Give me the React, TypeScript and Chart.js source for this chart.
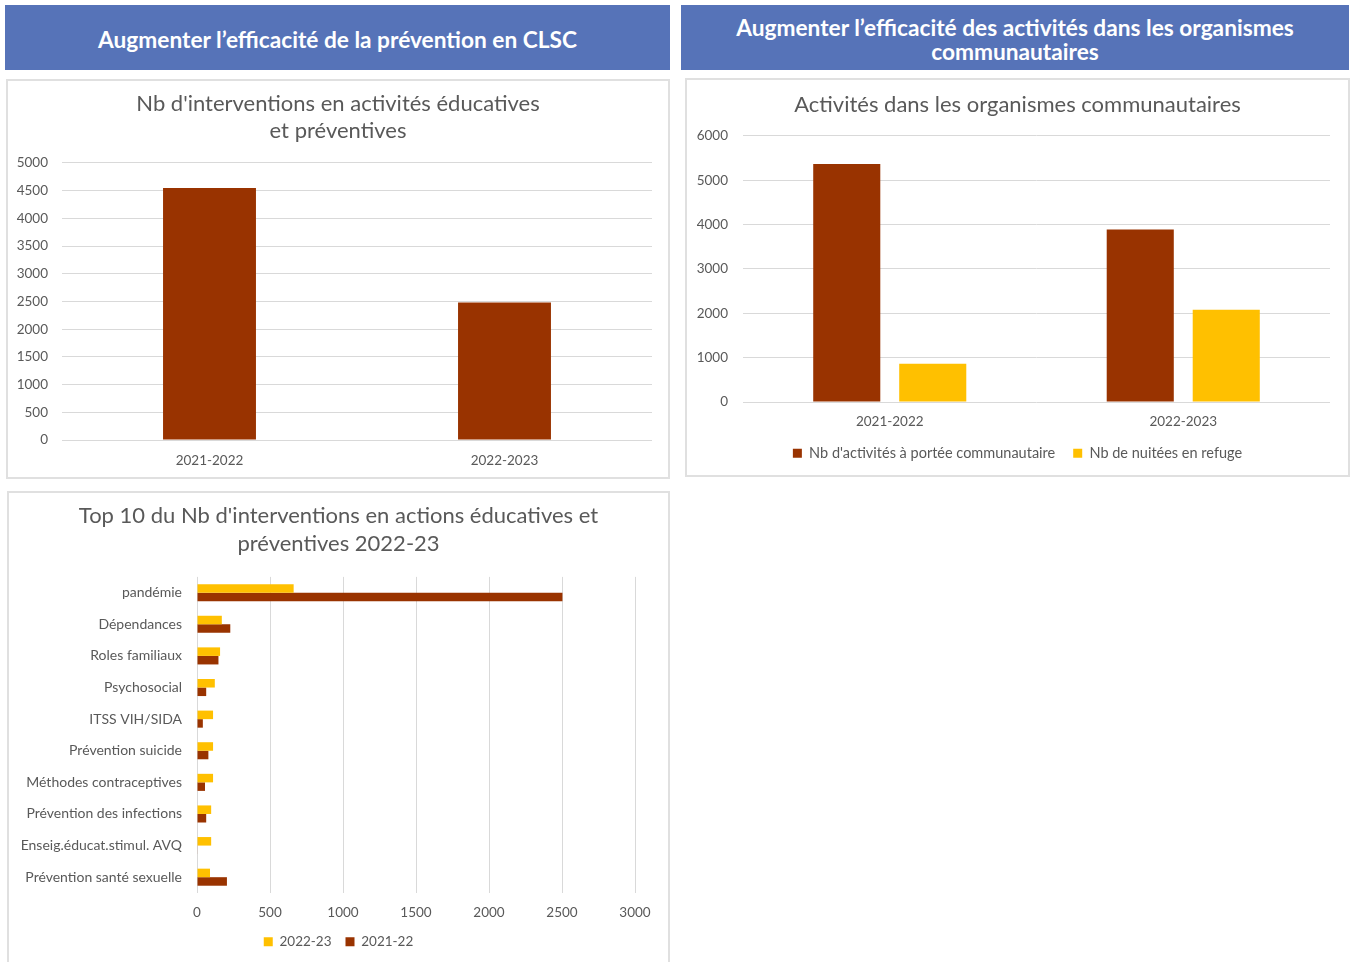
import React, { useEffect, useRef } from "react";
import { Chart, registerables } from "chart.js";

Chart.register(...registerables);

const BROWN = "#993300";
const YELLOW = "#FFC000";
const GRID = "#d9d9d9";
const TEXT = "#595959";
const FONT = "Lato, 'Open Sans', sans-serif";

// Chart 1
const years1 = ["2021-2022", "2022-2023"];
const interventions = [4550, 2480];

// Chart 2
const years2 = ["2021-2022", "2022-2023"];
const activitesCommunautaires = [5370, 3890];
const nuiteesRefuge = [860, 2080];

// Chart 3
const topCategories = [
  "pandémie",
  "Dépendances",
  "Roles familiaux",
  "Psychosocial",
  "ITSS VIH/SIDA",
  "Prévention suicide",
  "Méthodes contraceptives",
  "Prévention des infections",
  "Enseig.éducat.stimul. AVQ",
  "Prévention santé sexuelle",
];
const top2022_23 = [662, 170, 158, 122, 110, 110, 110, 97, 97, 89];
const top2021_22 = [2503, 228, 147, 63, 40, 78, 55, 63, 3, 205];

const tickFont = { family: FONT, size: 13.5 };
const titleFont = { family: FONT, size: 22, weight: "normal" as const, lineHeight: 1.227 };
const plain = (v: any) => String(v);

// invisible spacer axis so that the title and legend stay centred on the whole box
const spacer = (pos: string, size: number) => ({
  type: "linear",
  position: pos,
  display: true,
  grid: { display: false, drawTicks: false },
  border: { display: false },
  ticks: { display: false },
  afterFit: (s: any) => {
    if (pos === "right" || pos === "left") s.width = size;
    else s.height = size;
  },
});

function useChart(ref: React.RefObject<HTMLCanvasElement | null>, make: (c: HTMLCanvasElement) => Chart) {
  useEffect(() => {
    if (!ref.current) return;
    const ch = make(ref.current);
    return () => ch.destroy();
  }, []);
}

function ChartOne() {
  const ref = useRef<HTMLCanvasElement>(null);
  useChart(ref, (c) =>
    new Chart(c, {
      type: "bar",
      data: {
        labels: years1,
        datasets: [
          {
            label: "Nb d'interventions",
            data: interventions,
            backgroundColor: BROWN,
            barPercentage: 1,
            categoryPercentage: 0.315,
          },
        ],
      },
      options: {
        responsive: false,
        animation: false,
        layout: { padding: 0 },
        plugins: {
          legend: { display: false },
          tooltip: { enabled: false },
          title: {
            display: true,
            text: ["Nb d'interventions en activités éducatives", "et préventives"],
            color: TEXT,
            font: titleFont,
            padding: { top: 11, bottom: 19 },
          },
        },
        scales: {
          x: {
            grid: { display: false, drawTicks: false },
            border: { display: false },
            ticks: { color: TEXT, font: tickFont, padding: 13 },
            afterFit: (s: any) => {
              s.height = 39;
            },
          },
          y: {
            min: 0,
            max: 5000,
            ticks: { stepSize: 500, color: TEXT, font: tickFont, padding: 14, callback: plain },
            grid: { color: GRID, lineWidth: 1, drawTicks: false },
            border: { display: false },
            afterFit: (s: any) => {
              s.width = 56;
            },
          },
          yRight: spacer("right", 18),
        },
      },
    } as any)
  );
  return <canvas ref={ref} width={664} height={400} style={{ width: 664, height: 400 }} />;
}

function ChartTwo() {
  const ref = useRef<HTMLCanvasElement>(null);
  useChart(ref, (c) =>
    new Chart(c, {
      type: "bar",
      data: {
        labels: years2,
        datasets: [
          {
            label: "Nb d'activités à portée communautaire",
            data: activitesCommunautaires,
            backgroundColor: BROWN,
            barPercentage: 0.78,
            categoryPercentage: 0.586,
          },
          {
            label: "Nb de nuitées en refuge",
            data: nuiteesRefuge,
            backgroundColor: YELLOW,
            barPercentage: 0.78,
            categoryPercentage: 0.586,
          },
        ],
      },
      options: {
        responsive: false,
        animation: false,
        layout: { padding: { left: 0, right: 0, top: 0, bottom: 6.5 } },
        plugins: {
          tooltip: { enabled: false },
          title: {
            display: true,
            text: "Activités dans les organismes communautaires",
            color: TEXT,
            font: titleFont,
            padding: { top: 13, bottom: 18 },
          },
          legend: {
            position: "bottom",
            labels: {
              color: TEXT,
              font: { family: FONT, size: 14.5 },
              boxWidth: 9,
              boxHeight: 9,
              padding: 18,
            },
          },
        },
        scales: {
          x: {
            grid: { display: false, drawTicks: false },
            border: { display: false },
            ticks: { color: TEXT, font: tickFont, padding: 12 },
            afterFit: (s: any) => {
              s.height = 26;
            },
          },
          y: {
            min: 0,
            max: 6000,
            ticks: { stepSize: 1000, color: TEXT, font: tickFont, padding: 15, callback: plain },
            grid: { color: GRID, lineWidth: 1, drawTicks: false },
            border: { display: false },
            afterFit: (s: any) => {
              s.width = 58;
            },
          },
          yRight: spacer("right", 20),
        },
      },
    } as any)
  );
  return <canvas ref={ref} width={665} height={399} style={{ width: 665, height: 399 }} />;
}

function ChartThree() {
  const ref = useRef<HTMLCanvasElement>(null);
  useChart(ref, (c) =>
    new Chart(c, {
      type: "bar",
      data: {
        labels: topCategories,
        datasets: [
          {
            label: "2022-23",
            data: top2022_23,
            backgroundColor: YELLOW,
            barPercentage: 1,
            categoryPercentage: 0.54,
          },
          {
            label: "2021-22",
            data: top2021_22,
            backgroundColor: BROWN,
            barPercentage: 1,
            categoryPercentage: 0.54,
          },
        ],
      },
      options: {
        indexAxis: "y",
        responsive: false,
        animation: false,
        layout: { padding: { left: 0, right: 0, top: 0, bottom: 3.5 } },
        plugins: {
          tooltip: { enabled: false },
          title: {
            display: true,
            text: ["Top 10 du Nb d'interventions en actions éducatives et", "préventives 2022-23"],
            color: TEXT,
            font: { ...titleFont, lineHeight: 1.27 },
            padding: { top: 11, bottom: 19 },
          },
          legend: {
            position: "bottom",
            labels: {
              color: TEXT,
              font: tickFont,
              boxWidth: 9,
              boxHeight: 9,
              padding: 14,
            },
          },
        },
        scales: {
          x: {
            min: 0,
            max: 3000,
            ticks: { stepSize: 500, color: TEXT, font: tickFont, padding: 12, callback: plain },
            grid: { color: GRID, lineWidth: 1, drawTicks: false },
            border: { display: false },
            afterFit: (s: any) => {
              s.height = 28;
            },
          },
          y: {
            grid: { display: false, drawTicks: false },
            border: { display: false },
            ticks: { color: TEXT, font: { family: FONT, size: 14 }, padding: 15 },
            afterFit: (s: any) => {
              s.width = 190;
            },
          },
          yRight: spacer("right", 35),
        },
      },
    } as any)
  );
  return <canvas ref={ref} width={663} height={471} style={{ width: 663, height: 471 }} />;
}

const headerStyle: React.CSSProperties = {
  position: "absolute",
  background: "#5673B8",
  color: "#ffffff",
  fontFamily: FONT,
  fontWeight: 700,
  fontSize: 22.7,
  lineHeight: "24px",
  display: "flex",
  alignItems: "center",
  justifyContent: "center",
  textAlign: "center",
  boxSizing: "border-box",
};

const boxStyle: React.CSSProperties = {
  position: "absolute",
  border: "2px solid #e0e0e0",
  boxSizing: "border-box",
  background: "#ffffff",
};

export default function App() {
  return (
    <div
      style={{
        position: "absolute",
        left: 0,
        top: 0,
        width: 1351,
        height: 962,
        background: "#ffffff",
        overflow: "hidden",
      }}
    >
      <div style={{ ...headerStyle, left: 5, top: 5, width: 665, height: 65, paddingTop: 4 }}>
        Augmenter l’efficacité de la prévention en CLSC
      </div>
      <div style={{ ...headerStyle, left: 681, top: 5, width: 668, height: 65, paddingTop: 4 }}>
        Augmenter l’efficacité des activités dans les organismes
        <br />
        communautaires
      </div>

      <div style={{ ...boxStyle, left: 6, top: 79, width: 664, height: 400 }} />
      <div style={{ position: "absolute", left: 6, top: 79 }}>
        <ChartOne />
      </div>

      <div style={{ ...boxStyle, left: 685, top: 78, width: 665, height: 399 }} />
      <div style={{ position: "absolute", left: 685, top: 78 }}>
        <ChartTwo />
      </div>

      <div style={{ ...boxStyle, left: 7, top: 491, width: 663, height: 490 }} />
      <div style={{ position: "absolute", left: 7, top: 491 }}>
        <ChartThree />
      </div>
    </div>
  );
}
